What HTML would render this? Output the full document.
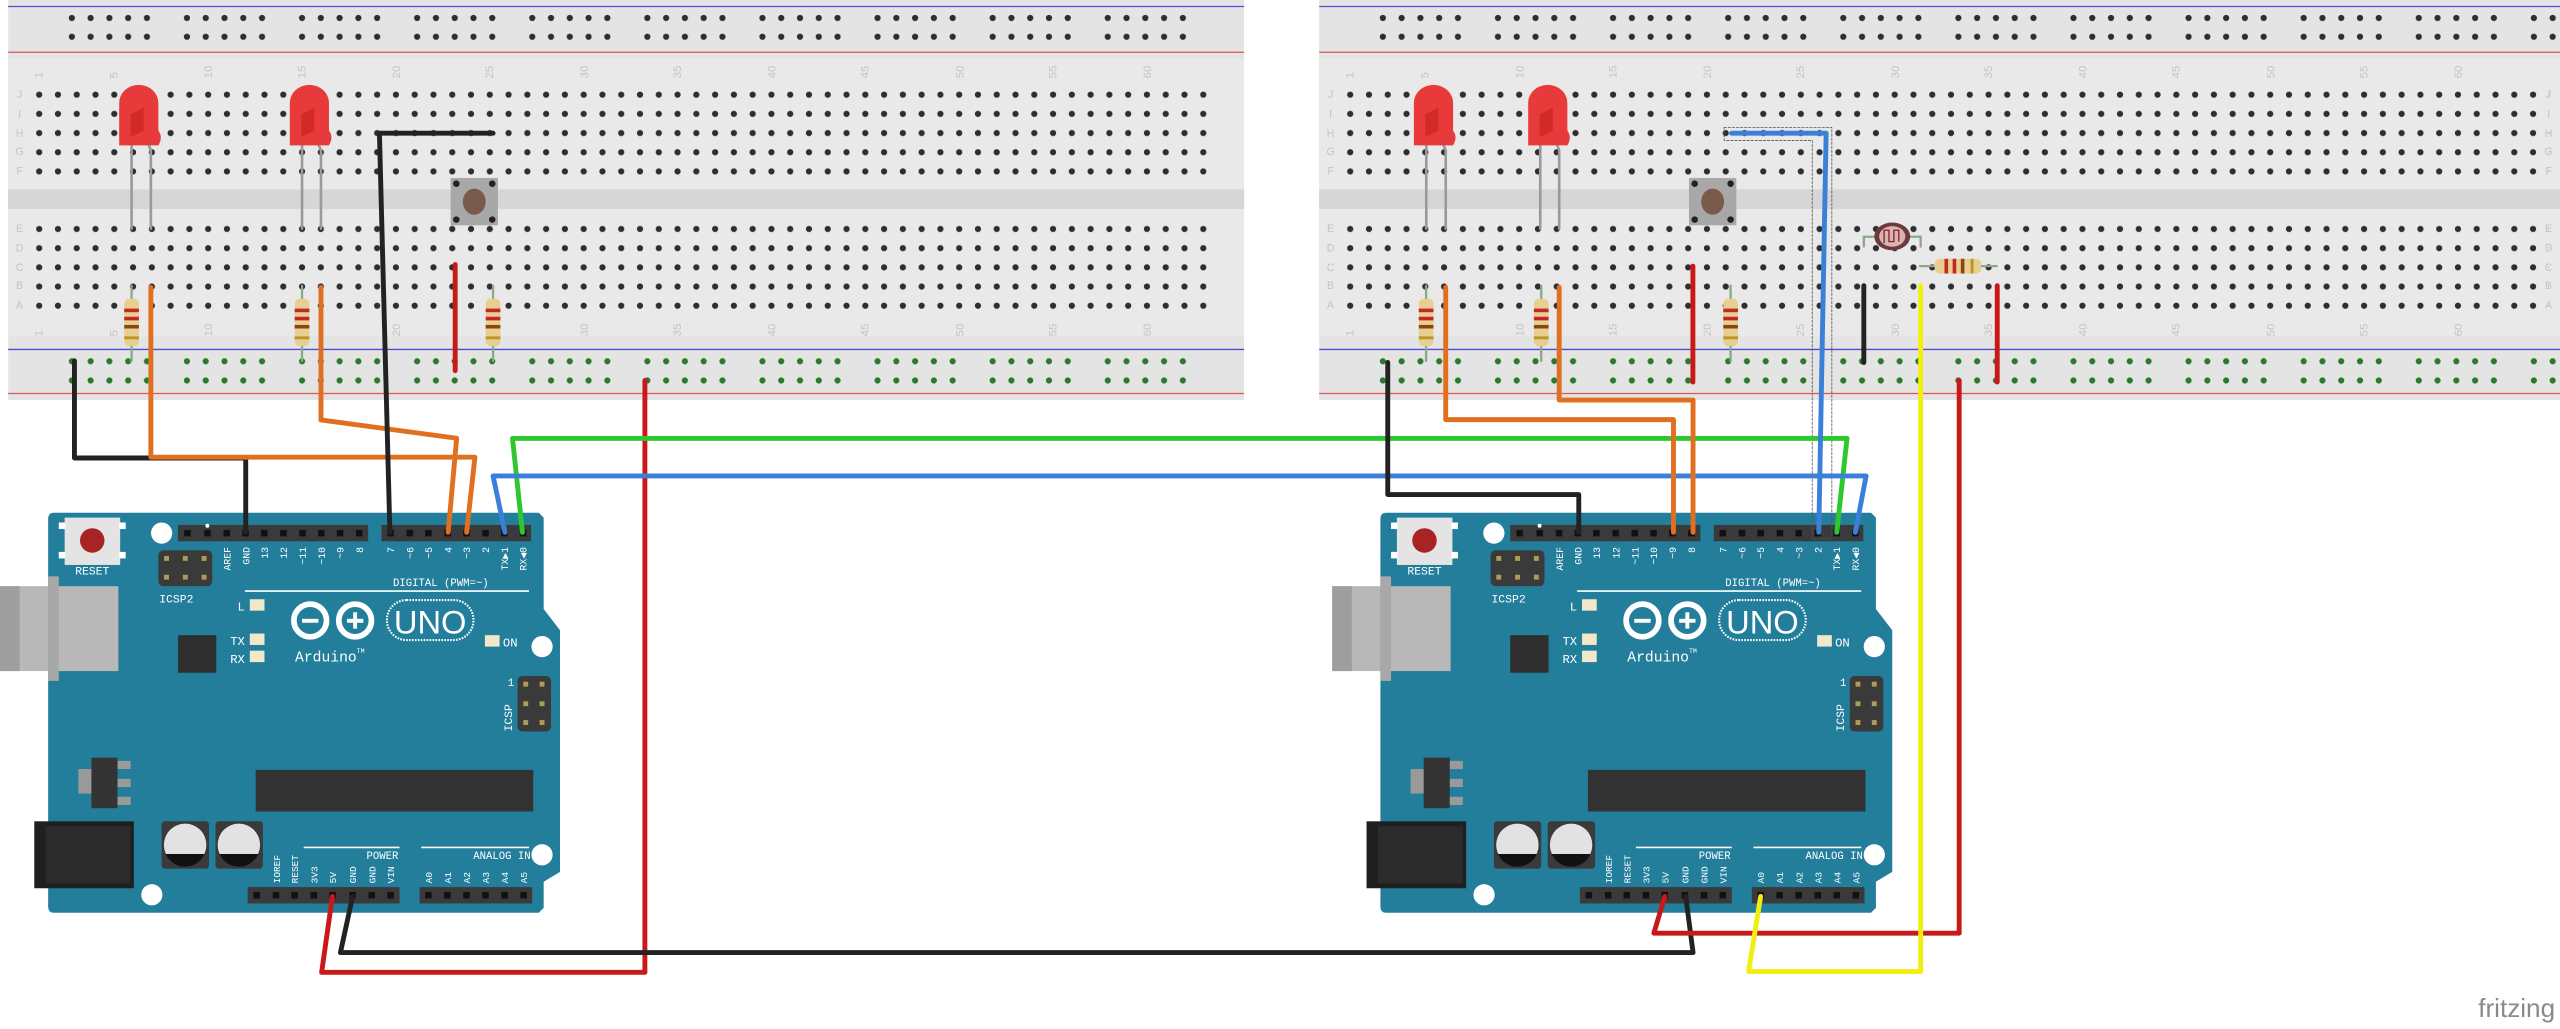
<!DOCTYPE html>
<html><head><meta charset="utf-8"><style>
html,body{margin:0;padding:0;background:#fff;}
svg{display:block}
</style></head><body>
<svg width="2560" height="1029" viewBox="0 0 1568 630.2" preserveAspectRatio="none" xmlns="http://www.w3.org/2000/svg" font-family="'Liberation Sans', sans-serif">
<defs>
<pattern id="hL" x="18.25" y="52.1" width="11.5" height="11.75" patternUnits="userSpaceOnUse"><circle cx="5.75" cy="5.875" r="1.9" fill="#2e2e2e"/></pattern>
<pattern id="hR" x="821.25" y="52.1" width="11.5" height="11.75" patternUnits="userSpaceOnUse"><circle cx="5.75" cy="5.875" r="1.9" fill="#2e2e2e"/></pattern>
<pattern id="rLt" x="38.25" y="5.25" width="70.5" height="11.5" patternUnits="userSpaceOnUse"><g fill="#2e2e2e"><circle cx="5.75" cy="5.75" r="1.9"/><circle cx="17.25" cy="5.75" r="1.9"/><circle cx="28.75" cy="5.75" r="1.9"/><circle cx="40.25" cy="5.75" r="1.9"/><circle cx="51.75" cy="5.75" r="1.9"/></g></pattern>
<pattern id="rLb" x="38.25" y="215.5" width="70.5" height="11.75" patternUnits="userSpaceOnUse"><g fill="#2a7a2a"><circle cx="5.75" cy="5.75" r="1.9"/><circle cx="17.25" cy="5.75" r="1.9"/><circle cx="28.75" cy="5.75" r="1.9"/><circle cx="40.25" cy="5.75" r="1.9"/><circle cx="51.75" cy="5.75" r="1.9"/></g></pattern>
<pattern id="rRt" x="841.25" y="5.25" width="70.5" height="11.5" patternUnits="userSpaceOnUse"><g fill="#2e2e2e"><circle cx="5.75" cy="5.75" r="1.9"/><circle cx="17.25" cy="5.75" r="1.9"/><circle cx="28.75" cy="5.75" r="1.9"/><circle cx="40.25" cy="5.75" r="1.9"/><circle cx="51.75" cy="5.75" r="1.9"/></g></pattern>
<pattern id="rRb" x="841.25" y="215.5" width="70.5" height="11.75" patternUnits="userSpaceOnUse"><g fill="#2a7a2a"><circle cx="5.75" cy="5.75" r="1.9"/><circle cx="17.25" cy="5.75" r="1.9"/><circle cx="28.75" cy="5.75" r="1.9"/><circle cx="40.25" cy="5.75" r="1.9"/><circle cx="51.75" cy="5.75" r="1.9"/></g></pattern>
</defs>

<!-- ============ BREADBOARDS ============ -->
<g>
<rect x="5" y="0" width="757" height="245" fill="#e4e4e4"/>
<rect x="5" y="36" width="757" height="170" fill="#e9e9e9"/>
<rect x="5" y="116" width="757" height="12" fill="#d6d6d6"/>
<line x1="5" y1="4" x2="762" y2="4" stroke="#4b4bd6" stroke-width="0.8"/>
<line x1="5" y1="32" x2="762" y2="32" stroke="#e05555" stroke-width="0.8"/>
<line x1="5" y1="214" x2="762" y2="214" stroke="#4b4bd6" stroke-width="0.8"/>
<line x1="5" y1="241" x2="762" y2="241" stroke="#e05555" stroke-width="0.8"/>
<rect x="38.25" y="5.25" width="705" height="23" fill="url(#rLt)"/>
<rect x="38.25" y="215.5" width="705" height="23.5" fill="url(#rLb)"/>
<rect x="18.25" y="52.1" width="724.5" height="58.75" fill="url(#hL)"/>
<rect x="18.25" y="134.35" width="724.5" height="58.75" fill="url(#hL)"/>
<g fill="#c4c4c4" font-size="6.5" text-anchor="middle">
<text x="12" y="60">J</text><text x="12" y="72">I</text><text x="12" y="84">H</text><text x="12" y="95">G</text><text x="12" y="107">F</text>
<text x="12" y="142">E</text><text x="12" y="154">D</text><text x="12" y="166">C</text><text x="12" y="177">B</text><text x="12" y="189">A</text>
</g>
<g fill="#c4c4c4" font-size="7">
<text transform="translate(26,48) rotate(-90)">1</text><text transform="translate(72,48) rotate(-90)">5</text><text transform="translate(130,48) rotate(-90)">10</text><text transform="translate(187,48) rotate(-90)">15</text><text transform="translate(245,48) rotate(-90)">20</text><text transform="translate(302,48) rotate(-90)">25</text><text transform="translate(360,48) rotate(-90)">30</text><text transform="translate(417,48) rotate(-90)">35</text><text transform="translate(475,48) rotate(-90)">40</text><text transform="translate(532,48) rotate(-90)">45</text><text transform="translate(590,48) rotate(-90)">50</text><text transform="translate(647,48) rotate(-90)">55</text><text transform="translate(705,48) rotate(-90)">60</text>
<text transform="translate(26,206) rotate(-90)">1</text><text transform="translate(72,206) rotate(-90)">5</text><text transform="translate(130,206) rotate(-90)">10</text><text transform="translate(187,206) rotate(-90)">15</text><text transform="translate(245,206) rotate(-90)">20</text><text transform="translate(302,206) rotate(-90)">25</text><text transform="translate(360,206) rotate(-90)">30</text><text transform="translate(417,206) rotate(-90)">35</text><text transform="translate(475,206) rotate(-90)">40</text><text transform="translate(532,206) rotate(-90)">45</text><text transform="translate(590,206) rotate(-90)">50</text><text transform="translate(647,206) rotate(-90)">55</text><text transform="translate(705,206) rotate(-90)">60</text>
</g>
</g>

<g>
<rect x="808" y="0" width="760" height="245" fill="#e4e4e4"/>
<rect x="808" y="36" width="760" height="170" fill="#e9e9e9"/>
<rect x="808" y="116" width="760" height="12" fill="#d6d6d6"/>
<line x1="808" y1="4" x2="1568" y2="4" stroke="#4b4bd6" stroke-width="0.8"/>
<line x1="808" y1="32" x2="1568" y2="32" stroke="#e05555" stroke-width="0.8"/>
<line x1="808" y1="214" x2="1568" y2="214" stroke="#4b4bd6" stroke-width="0.8"/>
<line x1="808" y1="241" x2="1568" y2="241" stroke="#e05555" stroke-width="0.8"/>
<rect x="841.25" y="5.25" width="726" height="23" fill="url(#rRt)"/>
<rect x="841.25" y="215.5" width="726" height="23.5" fill="url(#rRb)"/>
<rect x="821.25" y="52.1" width="740" height="58.75" fill="url(#hR)"/>
<rect x="821.25" y="134.35" width="740" height="58.75" fill="url(#hR)"/>
<g fill="#c4c4c4" font-size="6.5" text-anchor="middle">
<text x="815" y="60">J</text><text x="815" y="72">I</text><text x="815" y="84">H</text><text x="815" y="95">G</text><text x="815" y="107">F</text>
<text x="815" y="142">E</text><text x="815" y="154">D</text><text x="815" y="166">C</text><text x="815" y="177">B</text><text x="815" y="189">A</text>
<text x="1561" y="60">J</text><text x="1561" y="72">I</text><text x="1561" y="84">H</text><text x="1561" y="95">G</text><text x="1561" y="107">F</text>
<text x="1561" y="142">E</text><text x="1561" y="154">D</text><text x="1561" y="166">C</text><text x="1561" y="177">B</text><text x="1561" y="189">A</text>
</g>
<g fill="#c4c4c4" font-size="7">
<text transform="translate(829,48) rotate(-90)">1</text><text transform="translate(875,48) rotate(-90)">5</text><text transform="translate(933,48) rotate(-90)">10</text><text transform="translate(990,48) rotate(-90)">15</text><text transform="translate(1048,48) rotate(-90)">20</text><text transform="translate(1105,48) rotate(-90)">25</text><text transform="translate(1163,48) rotate(-90)">30</text><text transform="translate(1220,48) rotate(-90)">35</text><text transform="translate(1278,48) rotate(-90)">40</text><text transform="translate(1335,48) rotate(-90)">45</text><text transform="translate(1393,48) rotate(-90)">50</text><text transform="translate(1450,48) rotate(-90)">55</text><text transform="translate(1508,48) rotate(-90)">60</text>
<text transform="translate(829,206) rotate(-90)">1</text><text transform="translate(875,206) rotate(-90)">5</text><text transform="translate(933,206) rotate(-90)">10</text><text transform="translate(990,206) rotate(-90)">15</text><text transform="translate(1048,206) rotate(-90)">20</text><text transform="translate(1105,206) rotate(-90)">25</text><text transform="translate(1163,206) rotate(-90)">30</text><text transform="translate(1220,206) rotate(-90)">35</text><text transform="translate(1278,206) rotate(-90)">40</text><text transform="translate(1335,206) rotate(-90)">45</text><text transform="translate(1393,206) rotate(-90)">50</text><text transform="translate(1450,206) rotate(-90)">55</text><text transform="translate(1508,206) rotate(-90)">60</text>
</g>
</g>

<!-- ============ BREADBOARD COMPONENTS ============ -->
<g stroke-linecap="round">
<!-- LED legs -->
<g stroke="#9a9a9a" stroke-width="1.6" fill="none">
<path d="M80.6,88 V140"/><path d="M90,86 L92.4,92 V140"/>
<path d="M185,88 V140"/><path d="M194,86 L196.6,92 V140"/>
<path d="M873.6,88 V140"/><path d="M883,86 L885.5,92 V140"/>
<path d="M943.4,88 V140"/><path d="M952.5,86 L955,92 V140"/>
</g>
<!-- resistor leads -->
<g stroke="#8aa88a" stroke-width="1.4">
<line x1="80.6" y1="175" x2="80.6" y2="221"/><line x1="185" y1="175" x2="185" y2="221"/><line x1="302" y1="175" x2="302" y2="221"/>
<line x1="873.5" y1="175" x2="873.5" y2="221"/><line x1="944" y1="175" x2="944" y2="221"/><line x1="1060" y1="175" x2="1060" y2="221"/>
<line x1="1176" y1="163" x2="1223" y2="163"/>
<path d="M1141.6,151 V145 H1148 M1170,145 H1176.4 V151" fill="none"/>
</g>
</g>
<!-- LEDs -->
<g>
<path d="M73,89 V63 A12,11 0 0 1 97,63 V80 Q100,84 97,89 Z" fill="#e83a3a"/>
<path d="M80,70 L88,66 L88,80 L80,84 Z" fill="#c92222" opacity="0.7"/>
<path d="M177.5,89 V63 A12,11 0 0 1 201.5,63 V80 Q204.5,84 201.5,89 Z" fill="#e83a3a"/>
<path d="M184.5,70 L192.5,66 L192.5,80 L184.5,84 Z" fill="#c92222" opacity="0.7"/>
<path d="M866,89 V63 A12,11 0 0 1 890,63 V80 Q893,84 890,89 Z" fill="#e83a3a"/>
<path d="M873,70 L881,66 L881,80 L873,84 Z" fill="#c92222" opacity="0.7"/>
<path d="M936,89 V63 A12,11 0 0 1 960,63 V80 Q963,84 960,89 Z" fill="#e83a3a"/>
<path d="M943,70 L951,66 L951,80 L943,84 Z" fill="#c92222" opacity="0.7"/>
</g>
<!-- resistors vertical -->
<g>
<g transform="translate(80.6,0)"><rect x="-4.5" y="183" width="9" height="29" rx="3" fill="#e8cf8f"/><rect x="-4.5" y="189" width="9" height="2.2" fill="#c0282a"/><rect x="-4.5" y="194" width="9" height="2.2" fill="#c0282a"/><rect x="-4.5" y="199" width="9" height="2.2" fill="#8b4513"/><rect x="-4.5" y="206" width="9" height="1.8" fill="#b8962a"/></g>
<g transform="translate(185,0)"><rect x="-4.5" y="183" width="9" height="29" rx="3" fill="#e8cf8f"/><rect x="-4.5" y="189" width="9" height="2.2" fill="#c0282a"/><rect x="-4.5" y="194" width="9" height="2.2" fill="#c0282a"/><rect x="-4.5" y="199" width="9" height="2.2" fill="#8b4513"/><rect x="-4.5" y="206" width="9" height="1.8" fill="#b8962a"/></g>
<g transform="translate(302,0)"><rect x="-4.5" y="183" width="9" height="29" rx="3" fill="#e8cf8f"/><rect x="-4.5" y="189" width="9" height="2.2" fill="#c0282a"/><rect x="-4.5" y="194" width="9" height="2.2" fill="#c0282a"/><rect x="-4.5" y="199" width="9" height="2.2" fill="#8b4513"/><rect x="-4.5" y="206" width="9" height="1.8" fill="#b8962a"/></g>
<g transform="translate(873.5,0)"><rect x="-4.5" y="183" width="9" height="29" rx="3" fill="#e8cf8f"/><rect x="-4.5" y="189" width="9" height="2.2" fill="#c0282a"/><rect x="-4.5" y="194" width="9" height="2.2" fill="#c0282a"/><rect x="-4.5" y="199" width="9" height="2.2" fill="#8b4513"/><rect x="-4.5" y="206" width="9" height="1.8" fill="#b8962a"/></g>
<g transform="translate(944,0)"><rect x="-4.5" y="183" width="9" height="29" rx="3" fill="#e8cf8f"/><rect x="-4.5" y="189" width="9" height="2.2" fill="#c0282a"/><rect x="-4.5" y="194" width="9" height="2.2" fill="#c0282a"/><rect x="-4.5" y="199" width="9" height="2.2" fill="#8b4513"/><rect x="-4.5" y="206" width="9" height="1.8" fill="#b8962a"/></g>
<g transform="translate(1060,0)"><rect x="-4.5" y="183" width="9" height="29" rx="3" fill="#e8cf8f"/><rect x="-4.5" y="189" width="9" height="2.2" fill="#c0282a"/><rect x="-4.5" y="194" width="9" height="2.2" fill="#c0282a"/><rect x="-4.5" y="199" width="9" height="2.2" fill="#8b4513"/><rect x="-4.5" y="206" width="9" height="1.8" fill="#b8962a"/></g>
<!-- horizontal resistor -->
<rect x="1185" y="158.5" width="28.5" height="9" rx="3" fill="#e8cf8f"/><rect x="1191" y="158.5" width="2.2" height="9" fill="#c0282a"/><rect x="1196" y="158.5" width="2.2" height="9" fill="#c0282a"/><rect x="1201" y="158.5" width="2.2" height="9" fill="#8b4513"/><rect x="1207" y="158.5" width="1.8" height="9" fill="#b8962a"/>
<!-- LDR -->
<ellipse cx="1159" cy="144.8" rx="11" ry="8.5" fill="#6b3a3a"/><ellipse cx="1159" cy="144.8" rx="8" ry="6.3" fill="#d8b4b4"/>
<path d="M1154,149 V141 H1157 V148 H1160 V141 H1163 V148" stroke="#8b2020" stroke-width="0.8" fill="none"/>
</g>
<!-- Buttons -->
<g>
<rect x="276" y="109" width="29" height="29" fill="#a8a8a8"/><circle cx="279.5" cy="112.5" r="2" fill="#222"/><circle cx="301.5" cy="112.5" r="2" fill="#222"/><circle cx="279.5" cy="134.5" r="2" fill="#222"/><circle cx="301.5" cy="134.5" r="2" fill="#222"/><ellipse cx="290.5" cy="123.5" rx="7" ry="8" fill="#7a5a4a"/>
<rect x="1034.5" y="109" width="29" height="29" fill="#a8a8a8"/><circle cx="1038" cy="112.5" r="2" fill="#222"/><circle cx="1060" cy="112.5" r="2" fill="#222"/><circle cx="1038" cy="134.5" r="2" fill="#222"/><circle cx="1060" cy="134.5" r="2" fill="#222"/><ellipse cx="1049" cy="123.5" rx="7" ry="8" fill="#7a5a4a"/>
</g>

<!-- ============ ARDUINO LEFT ============ -->
<g id="ardL">
<rect x="0" y="359" width="72" height="52" fill="#b8b8b8"/><rect x="0" y="359" width="12" height="52" fill="#9e9e9e"/>
<path d="M33,314 H330 L333,317 V373 L343,386 V534 L333,540 V556 L330,559 H33 Q29.5,559 29.5,555 V318 Q29.5,314 33,314 Z" fill="#237e9c"/>
<rect x="29.5" y="359" width="43" height="52" fill="#b8b8b8"/><rect x="29.5" y="353" width="6.5" height="64" fill="#a8a8a8"/>
<rect x="39.6" y="317" width="34" height="29" fill="#e4e4e4"/><rect x="36" y="320" width="4" height="4" fill="#fff"/><rect x="36" y="338" width="4" height="4" fill="#fff"/><rect x="73" y="320" width="4" height="4" fill="#fff"/><rect x="73" y="338" width="4" height="4" fill="#fff"/>
<circle cx="56.5" cy="331" r="7.5" fill="#a82424"/>
<text x="56.5" y="352" font-size="7" fill="#fff" text-anchor="middle" font-family="'Liberation Mono', monospace">RESET</text>
<g fill="#fff"><circle cx="99" cy="326.5" r="6.5"/><circle cx="332" cy="396" r="6.5"/><circle cx="332" cy="523.5" r="6.5"/><circle cx="93" cy="548" r="6.5"/></g>
<rect x="109" y="321.5" width="116.5" height="10" fill="#3a3a3a"/><rect x="233.7" y="321.5" width="91.6" height="10" fill="#3a3a3a"/>
<g fill="#111"><rect x="112.8" y="324.5" width="4" height="4"/><rect x="125.1" y="324.5" width="4" height="4"/><rect x="136.9" y="324.5" width="4" height="4"/><rect x="148.4" y="324.5" width="4" height="4"/><rect x="159.8" y="324.5" width="4" height="4"/><rect x="171.6" y="324.5" width="4" height="4"/><rect x="183.3" y="324.5" width="4" height="4"/><rect x="194.8" y="324.5" width="4" height="4"/><rect x="206.3" y="324.5" width="4" height="4"/><rect x="218" y="324.5" width="4" height="4"/>
<rect x="237.2" y="324.5" width="4" height="4"/><rect x="249" y="324.5" width="4" height="4"/><rect x="260.4" y="324.5" width="4" height="4"/><rect x="272.2" y="324.5" width="4" height="4"/><rect x="283.7" y="324.5" width="4" height="4"/><rect x="295.4" y="324.5" width="4" height="4"/><rect x="306.9" y="324.5" width="4" height="4"/><rect x="318.4" y="324.5" width="4" height="4"/></g>
<g fill="#fff" font-size="6" font-family="'Liberation Mono', monospace" text-anchor="end">
<text transform="translate(141.2,335) rotate(-90)">AREF</text><text transform="translate(152.7,335) rotate(-90)">GND</text><text transform="translate(164,335) rotate(-90)">13</text><text transform="translate(175.8,335) rotate(-90)">12</text><text transform="translate(187.5,335) rotate(-90)">~11</text><text transform="translate(199,335) rotate(-90)">~10</text><text transform="translate(210.5,335) rotate(-90)">~9</text><text transform="translate(222.2,335) rotate(-90)">8</text>
<text transform="translate(241.4,335) rotate(-90)">7</text><text transform="translate(253.2,335) rotate(-90)">~6</text><text transform="translate(264.6,335) rotate(-90)">~5</text><text transform="translate(276.4,335) rotate(-90)">4</text><text transform="translate(287.9,335) rotate(-90)">~3</text><text transform="translate(299.6,335) rotate(-90)">2</text><text transform="translate(311.1,335) rotate(-90)">TX▶1</text><text transform="translate(322.6,335) rotate(-90)">RX◀0</text>
</g>
<circle cx="127" cy="322" r="1.2" fill="#fff"/>
<text x="270" y="359" font-size="6.5" fill="#fff" text-anchor="middle" font-family="'Liberation Mono', monospace">DIGITAL (PWM=~)</text>
<line x1="150" y1="362" x2="324" y2="362" stroke="#fff" stroke-width="1"/>
<rect x="97" y="337" width="33" height="22" rx="3" fill="#3a3a3a"/><g fill="#b09a5a"><rect x="100.5" y="340.5" width="3" height="3"/><rect x="112" y="340.5" width="3" height="3"/><rect x="123.5" y="340.5" width="3" height="3"/><rect x="100.5" y="352" width="3" height="3"/><rect x="112" y="352" width="3" height="3"/><rect x="123.5" y="352" width="3" height="3"/></g>
<text x="108" y="369" font-size="7" fill="#fff" text-anchor="middle" font-family="'Liberation Mono', monospace">ICSP2</text>
<g fill="#f0e8c8"><rect x="153" y="367" width="9" height="7"/><rect x="153" y="388" width="9" height="7"/><rect x="153" y="398.5" width="9" height="7"/><rect x="297" y="389" width="9" height="7"/></g>
<g fill="#fff" font-size="7.5" font-family="'Liberation Mono', monospace" text-anchor="end"><text x="150" y="374">L</text><text x="150" y="395">TX</text><text x="150" y="406">RX</text></g>
<text x="308" y="396" font-size="7.5" fill="#fff" font-family="'Liberation Mono', monospace">ON</text>
<rect x="109" y="389" width="23.5" height="23" fill="#2f2f2f"/>
<circle cx="190" cy="380" r="10" fill="none" stroke="#fff" stroke-width="3.5"/><circle cx="217.5" cy="380" r="10" fill="none" stroke="#fff" stroke-width="3.5"/>
<rect x="185" y="379" width="10" height="2.4" fill="#fff"/><rect x="212.5" y="379" width="10" height="2.4" fill="#fff"/><rect x="216.3" y="375" width="2.4" height="10" fill="#fff"/>
<rect x="237" y="367.5" width="53" height="24.5" rx="12" fill="none" stroke="#fff" stroke-width="1.3" stroke-dasharray="1 0.8"/>
<text x="263.5" y="388" font-size="20" fill="#fff" text-anchor="middle">UNO</text>
<text x="202" y="405" font-size="9" fill="#fff" text-anchor="middle" font-family="'Liberation Mono', monospace">Arduino<tspan font-size="4" dy="-5">TM</tspan></text>
<rect x="317" y="414" width="20.5" height="34" rx="3" fill="#3a3a3a"/><g fill="#b09a5a"><rect x="320.5" y="417.5" width="3" height="3"/><rect x="330.5" y="417.5" width="3" height="3"/><rect x="320.5" y="429.5" width="3" height="3"/><rect x="330.5" y="429.5" width="3" height="3"/><rect x="320.5" y="441" width="3" height="3"/><rect x="330.5" y="441" width="3" height="3"/></g>
<text transform="translate(313.5,448) rotate(-90)" font-size="7" fill="#fff" font-family="'Liberation Mono', monospace">ICSP</text>
<text x="311" y="420" font-size="6.5" fill="#fff" font-family="'Liberation Mono', monospace">1</text>
<rect x="48" y="471" width="9" height="15" fill="#9a9a9a"/><rect x="56" y="464" width="16" height="31" fill="#333"/><g fill="#9a9a9a"><rect x="72" y="466" width="8" height="5"/><rect x="72" y="477" width="8" height="5"/><rect x="72" y="488" width="8" height="5"/></g>
<rect x="156.6" y="471.5" width="170" height="25.5" fill="#333"/>
<rect x="21" y="503" width="61" height="41" fill="#1f1f1f"/><rect x="28" y="506" width="52" height="35" fill="#2b2b2b"/>
<rect x="99" y="503" width="29" height="29" rx="2" fill="#3a3a3a"/><circle cx="113.4" cy="517.4" r="13" fill="#e2e2e2"/><path d="M101.5,523 A13,13 0 0 0 125.3,523 Z" fill="#111"/>
<rect x="132" y="503" width="29" height="29" rx="2" fill="#3a3a3a"/><circle cx="146.3" cy="517.4" r="13" fill="#e2e2e2"/><path d="M134.4,523 A13,13 0 0 0 158.2,523 Z" fill="#111"/>
<text x="244" y="526" font-size="6.5" fill="#fff" text-anchor="end" font-family="'Liberation Mono', monospace">POWER</text><line x1="186" y1="519" x2="244.7" y2="519" stroke="#fff" stroke-width="1"/>
<text x="325" y="526" font-size="6.5" fill="#fff" text-anchor="end" font-family="'Liberation Mono', monospace">ANALOG IN</text><line x1="258" y1="519" x2="324" y2="519" stroke="#fff" stroke-width="1"/>
<g fill="#fff" font-size="5.8" font-family="'Liberation Mono', monospace">
<text transform="translate(171.5,541) rotate(-90)">IOREF</text><text transform="translate(182.6,541) rotate(-90)">RESET</text><text transform="translate(194.4,541) rotate(-90)">3V3</text><text transform="translate(205.9,541) rotate(-90)">5V</text><text transform="translate(218.2,541) rotate(-90)">GND</text><text transform="translate(229.9,541) rotate(-90)">GND</text><text transform="translate(241.4,541) rotate(-90)">VIN</text>
<text transform="translate(264.6,541) rotate(-90)">A0</text><text transform="translate(276.2,541) rotate(-90)">A1</text><text transform="translate(287.9,541) rotate(-90)">A2</text><text transform="translate(299.6,541) rotate(-90)">A3</text><text transform="translate(311.2,541) rotate(-90)">A4</text><text transform="translate(322.9,541) rotate(-90)">A5</text>
</g>
<rect x="151.7" y="543.3" width="93" height="10" fill="#3a3a3a"/><rect x="257" y="543.3" width="69" height="10" fill="#3a3a3a"/>
<g fill="#111"><rect x="155.2" y="546.3" width="4" height="4"/><rect x="167" y="546.3" width="4" height="4"/><rect x="178.4" y="546.3" width="4" height="4"/><rect x="190.2" y="546.3" width="4" height="4"/><rect x="201.7" y="546.3" width="4" height="4"/><rect x="214" y="546.3" width="4" height="4"/><rect x="225.7" y="546.3" width="4" height="4"/><rect x="237.2" y="546.3" width="4" height="4"/>
<rect x="260.4" y="546.3" width="4" height="4"/><rect x="272" y="546.3" width="4" height="4"/><rect x="283.7" y="546.3" width="4" height="4"/><rect x="295.4" y="546.3" width="4" height="4"/><rect x="307" y="546.3" width="4" height="4"/><rect x="318.7" y="546.3" width="4" height="4"/></g>
</g>

<!-- ============ ARDUINO RIGHT ============ -->
<g transform="translate(816,0)">
<rect x="0" y="359" width="72" height="52" fill="#b8b8b8"/><rect x="0" y="359" width="12" height="52" fill="#9e9e9e"/>
<path d="M33,314 H330 L333,317 V373 L343,386 V534 L333,540 V556 L330,559 H33 Q29.5,559 29.5,555 V318 Q29.5,314 33,314 Z" fill="#237e9c"/>
<rect x="29.5" y="359" width="43" height="52" fill="#b8b8b8"/><rect x="29.5" y="353" width="6.5" height="64" fill="#a8a8a8"/>
<rect x="39.6" y="317" width="34" height="29" fill="#e4e4e4"/><rect x="36" y="320" width="4" height="4" fill="#fff"/><rect x="36" y="338" width="4" height="4" fill="#fff"/><rect x="73" y="320" width="4" height="4" fill="#fff"/><rect x="73" y="338" width="4" height="4" fill="#fff"/>
<circle cx="56.5" cy="331" r="7.5" fill="#a82424"/>
<text x="56.5" y="352" font-size="7" fill="#fff" text-anchor="middle" font-family="'Liberation Mono', monospace">RESET</text>
<g fill="#fff"><circle cx="99" cy="326.5" r="6.5"/><circle cx="332" cy="396" r="6.5"/><circle cx="332" cy="523.5" r="6.5"/><circle cx="93" cy="548" r="6.5"/></g>
<rect x="109" y="321.5" width="116.5" height="10" fill="#3a3a3a"/><rect x="233.7" y="321.5" width="91.6" height="10" fill="#3a3a3a"/>
<g fill="#111"><rect x="112.8" y="324.5" width="4" height="4"/><rect x="125.1" y="324.5" width="4" height="4"/><rect x="136.9" y="324.5" width="4" height="4"/><rect x="148.4" y="324.5" width="4" height="4"/><rect x="159.8" y="324.5" width="4" height="4"/><rect x="171.6" y="324.5" width="4" height="4"/><rect x="183.3" y="324.5" width="4" height="4"/><rect x="194.8" y="324.5" width="4" height="4"/><rect x="206.3" y="324.5" width="4" height="4"/><rect x="218" y="324.5" width="4" height="4"/>
<rect x="237.2" y="324.5" width="4" height="4"/><rect x="249" y="324.5" width="4" height="4"/><rect x="260.4" y="324.5" width="4" height="4"/><rect x="272.2" y="324.5" width="4" height="4"/><rect x="283.7" y="324.5" width="4" height="4"/><rect x="295.4" y="324.5" width="4" height="4"/><rect x="306.9" y="324.5" width="4" height="4"/><rect x="318.4" y="324.5" width="4" height="4"/></g>
<g fill="#fff" font-size="6" font-family="'Liberation Mono', monospace" text-anchor="end">
<text transform="translate(141.2,335) rotate(-90)">AREF</text><text transform="translate(152.7,335) rotate(-90)">GND</text><text transform="translate(164,335) rotate(-90)">13</text><text transform="translate(175.8,335) rotate(-90)">12</text><text transform="translate(187.5,335) rotate(-90)">~11</text><text transform="translate(199,335) rotate(-90)">~10</text><text transform="translate(210.5,335) rotate(-90)">~9</text><text transform="translate(222.2,335) rotate(-90)">8</text>
<text transform="translate(241.4,335) rotate(-90)">7</text><text transform="translate(253.2,335) rotate(-90)">~6</text><text transform="translate(264.6,335) rotate(-90)">~5</text><text transform="translate(276.4,335) rotate(-90)">4</text><text transform="translate(287.9,335) rotate(-90)">~3</text><text transform="translate(299.6,335) rotate(-90)">2</text><text transform="translate(311.1,335) rotate(-90)">TX▶1</text><text transform="translate(322.6,335) rotate(-90)">RX◀0</text>
</g>
<circle cx="127" cy="322" r="1.2" fill="#fff"/>
<text x="270" y="359" font-size="6.5" fill="#fff" text-anchor="middle" font-family="'Liberation Mono', monospace">DIGITAL (PWM=~)</text>
<line x1="150" y1="362" x2="324" y2="362" stroke="#fff" stroke-width="1"/>
<rect x="97" y="337" width="33" height="22" rx="3" fill="#3a3a3a"/><g fill="#b09a5a"><rect x="100.5" y="340.5" width="3" height="3"/><rect x="112" y="340.5" width="3" height="3"/><rect x="123.5" y="340.5" width="3" height="3"/><rect x="100.5" y="352" width="3" height="3"/><rect x="112" y="352" width="3" height="3"/><rect x="123.5" y="352" width="3" height="3"/></g>
<text x="108" y="369" font-size="7" fill="#fff" text-anchor="middle" font-family="'Liberation Mono', monospace">ICSP2</text>
<g fill="#f0e8c8"><rect x="153" y="367" width="9" height="7"/><rect x="153" y="388" width="9" height="7"/><rect x="153" y="398.5" width="9" height="7"/><rect x="297" y="389" width="9" height="7"/></g>
<g fill="#fff" font-size="7.5" font-family="'Liberation Mono', monospace" text-anchor="end"><text x="150" y="374">L</text><text x="150" y="395">TX</text><text x="150" y="406">RX</text></g>
<text x="308" y="396" font-size="7.5" fill="#fff" font-family="'Liberation Mono', monospace">ON</text>
<rect x="109" y="389" width="23.5" height="23" fill="#2f2f2f"/>
<circle cx="190" cy="380" r="10" fill="none" stroke="#fff" stroke-width="3.5"/><circle cx="217.5" cy="380" r="10" fill="none" stroke="#fff" stroke-width="3.5"/>
<rect x="185" y="379" width="10" height="2.4" fill="#fff"/><rect x="212.5" y="379" width="10" height="2.4" fill="#fff"/><rect x="216.3" y="375" width="2.4" height="10" fill="#fff"/>
<rect x="237" y="367.5" width="53" height="24.5" rx="12" fill="none" stroke="#fff" stroke-width="1.3" stroke-dasharray="1 0.8"/>
<text x="263.5" y="388" font-size="20" fill="#fff" text-anchor="middle">UNO</text>
<text x="202" y="405" font-size="9" fill="#fff" text-anchor="middle" font-family="'Liberation Mono', monospace">Arduino<tspan font-size="4" dy="-5">TM</tspan></text>
<rect x="317" y="414" width="20.5" height="34" rx="3" fill="#3a3a3a"/><g fill="#b09a5a"><rect x="320.5" y="417.5" width="3" height="3"/><rect x="330.5" y="417.5" width="3" height="3"/><rect x="320.5" y="429.5" width="3" height="3"/><rect x="330.5" y="429.5" width="3" height="3"/><rect x="320.5" y="441" width="3" height="3"/><rect x="330.5" y="441" width="3" height="3"/></g>
<text transform="translate(313.5,448) rotate(-90)" font-size="7" fill="#fff" font-family="'Liberation Mono', monospace">ICSP</text>
<text x="311" y="420" font-size="6.5" fill="#fff" font-family="'Liberation Mono', monospace">1</text>
<rect x="48" y="471" width="9" height="15" fill="#9a9a9a"/><rect x="56" y="464" width="16" height="31" fill="#333"/><g fill="#9a9a9a"><rect x="72" y="466" width="8" height="5"/><rect x="72" y="477" width="8" height="5"/><rect x="72" y="488" width="8" height="5"/></g>
<rect x="156.6" y="471.5" width="170" height="25.5" fill="#333"/>
<rect x="21" y="503" width="61" height="41" fill="#1f1f1f"/><rect x="28" y="506" width="52" height="35" fill="#2b2b2b"/>
<rect x="99" y="503" width="29" height="29" rx="2" fill="#3a3a3a"/><circle cx="113.4" cy="517.4" r="13" fill="#e2e2e2"/><path d="M101.5,523 A13,13 0 0 0 125.3,523 Z" fill="#111"/>
<rect x="132" y="503" width="29" height="29" rx="2" fill="#3a3a3a"/><circle cx="146.3" cy="517.4" r="13" fill="#e2e2e2"/><path d="M134.4,523 A13,13 0 0 0 158.2,523 Z" fill="#111"/>
<text x="244" y="526" font-size="6.5" fill="#fff" text-anchor="end" font-family="'Liberation Mono', monospace">POWER</text><line x1="186" y1="519" x2="244.7" y2="519" stroke="#fff" stroke-width="1"/>
<text x="325" y="526" font-size="6.5" fill="#fff" text-anchor="end" font-family="'Liberation Mono', monospace">ANALOG IN</text><line x1="258" y1="519" x2="324" y2="519" stroke="#fff" stroke-width="1"/>
<g fill="#fff" font-size="5.8" font-family="'Liberation Mono', monospace">
<text transform="translate(171.5,541) rotate(-90)">IOREF</text><text transform="translate(182.6,541) rotate(-90)">RESET</text><text transform="translate(194.4,541) rotate(-90)">3V3</text><text transform="translate(205.9,541) rotate(-90)">5V</text><text transform="translate(218.2,541) rotate(-90)">GND</text><text transform="translate(229.9,541) rotate(-90)">GND</text><text transform="translate(241.4,541) rotate(-90)">VIN</text>
<text transform="translate(264.6,541) rotate(-90)">A0</text><text transform="translate(276.2,541) rotate(-90)">A1</text><text transform="translate(287.9,541) rotate(-90)">A2</text><text transform="translate(299.6,541) rotate(-90)">A3</text><text transform="translate(311.2,541) rotate(-90)">A4</text><text transform="translate(322.9,541) rotate(-90)">A5</text>
</g>
<rect x="151.7" y="543.3" width="93" height="10" fill="#3a3a3a"/><rect x="257" y="543.3" width="69" height="10" fill="#3a3a3a"/>
<g fill="#111"><rect x="155.2" y="546.3" width="4" height="4"/><rect x="167" y="546.3" width="4" height="4"/><rect x="178.4" y="546.3" width="4" height="4"/><rect x="190.2" y="546.3" width="4" height="4"/><rect x="201.7" y="546.3" width="4" height="4"/><rect x="214" y="546.3" width="4" height="4"/><rect x="225.7" y="546.3" width="4" height="4"/><rect x="237.2" y="546.3" width="4" height="4"/>
<rect x="260.4" y="546.3" width="4" height="4"/><rect x="272" y="546.3" width="4" height="4"/><rect x="283.7" y="546.3" width="4" height="4"/><rect x="295.4" y="546.3" width="4" height="4"/><rect x="307" y="546.3" width="4" height="4"/><rect x="318.7" y="546.3" width="4" height="4"/></g>
</g>

<!-- ============ WIRES ============ -->
<g fill="none" stroke-width="3" stroke-linecap="round" stroke-linejoin="round">
<!-- selection outline around right blue -->
<path d="M1056,78 H1122 V330 H1110 V86 H1056 Z" stroke="#555" stroke-width="0.5" stroke-dasharray="1.5 1"/>
<!-- left board wires -->
<path d="M45.6,221 V280.5 H150.5 V326" stroke="#222"/>
<path d="M92.4,176 V280 H290.9 L285.8,326" stroke="#e07020"/>
<path d="M196.6,176 V257.2 L279.7,268.4 L274.5,326" stroke="#e07020"/>
<path d="M302,81.6 H232.4 L238.8,326" stroke="#222"/>
<path d="M278.8,162 V227" stroke="#c81818"/>
<path d="M395,233 V595.5 H197 L203.6,549" stroke="#c81818"/>
<path d="M216,549 L208.5,583.4 H1037 L1032.5,549" stroke="#222"/>
<!-- inter-board -->
<path d="M320,326 L313.9,268.5 H1131.3 L1125,326" stroke="#2ec82e"/>
<path d="M309.3,326 L302,291.5 H1143 L1136.4,326" stroke="#3a80d8"/>
<!-- right board wires -->
<path d="M850,222 V302.9 H967 V326" stroke="#222"/>
<path d="M885.5,176 V257 H1025 V326" stroke="#e07020"/>
<path d="M955,176 V245 H1037 V326" stroke="#e07020"/>
<path d="M1060.6,81.6 H1118.5 L1114,326" stroke="#3a80d8"/>
<path d="M1036.9,163 V234" stroke="#c81818"/>
<path d="M1141.6,175 V222" stroke="#222"/>
<path d="M1223.3,175 V234" stroke="#c81818"/>
<path d="M1200,233 V571.5 H1013 L1019.7,549" stroke="#c81818"/>
<path d="M1176.4,175 V595 H1071 L1078.4,549" stroke="#f2ee10"/>
</g>

<text x="1565" y="623" font-size="16" fill="#8a8a8a" text-anchor="end">fritzing</text>
</svg>
</body></html>
